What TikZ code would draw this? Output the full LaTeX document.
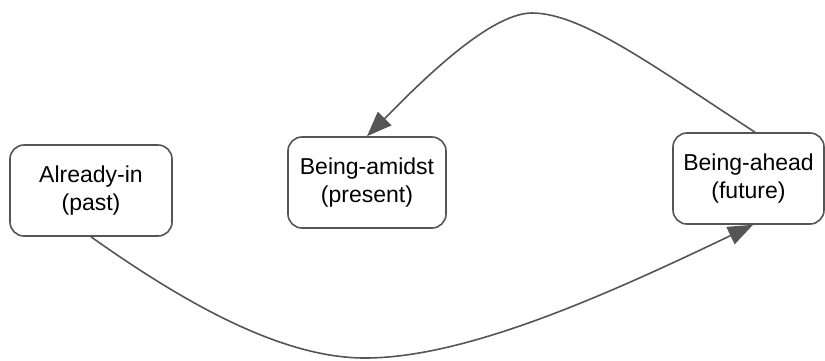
\documentclass[tikz,border=0pt]{standalone}
\usepackage{fontspec}
\setmainfont{Liberation Sans}
\usetikzlibrary{arrows.meta}
\definecolor{linec}{HTML}{555555}
\begin{document}
\begin{tikzpicture}[x=1pt,y=-1pt,
  box/.style={draw=linec, line width=1.6pt, rounded corners=14pt, align=center,
    minimum height=91pt, inner sep=0pt, font=\fontsize{23}{28}\selectfont},
  conn/.style={draw=linec, line width=1.6pt, -{Triangle[length=25pt,width=19pt]}}]
\useasboundingbox (0,0) rectangle (825,360);
\node[box, minimum width=162pt] (b1) at (91,190.5) {Already-in\\(past)};
\node[box, minimum width=158pt] (b2) at (367,182.5) {Being-amidst\\(present)};
\node[box, minimum width=151pt] (b3) at (748.5,178.5) {Being-ahead\\(future)};
\coordinate (topc) at (532,13);
\coordinate (botc) at (365,358);
\draw[conn] ([xshift=6.5pt]b3.north) .. controls +(-100,-65) and +(50,0) .. (topc)
  .. controls +(-45,0) and +(45,-45) .. (b2.north);
\draw[conn] (b1.south) .. controls +(100,71) and +(-80,0) .. (botc)
  .. controls +(100,0) and +(-150,72) .. ([xshift=4.5pt]b3.south);
\end{tikzpicture}
\end{document}
